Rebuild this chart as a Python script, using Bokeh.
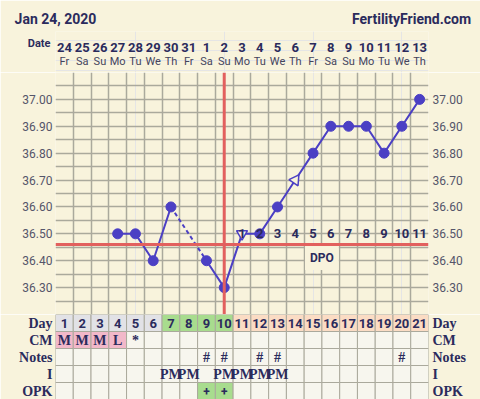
import math
from bokeh.plotting import figure
from bokeh.models import (Range1d, FactorRange, FixedTicker, LinearAxis, CategoricalAxis,
                          Span, Label, NumeralTickFormatter, Grid)
from bokeh.layouts import column
from bokeh.embed import file_html
from bokeh.resources import INLINE
from bokeh.core.properties import value

nan = float("nan")

# ---------------- data ----------------
title_left = "Jan 24, 2020"
title_right = "FertilityFriend.com"
days = list(range(1, 22))
dates = ["24", "25", "26", "27", "28", "29", "30", "31", "1", "2", "3", "4", "5", "6", "7", "8", "9", "10", "11", "12", "13"]
weekdays = ["Fr", "Sa", "Su", "Mo", "Tu", "We", "Th", "Fr", "Sa", "Su", "Mo", "Tu", "We", "Th", "Fr", "Sa", "Su", "Mo", "Tu", "We", "Th"]
temps = [nan, nan, nan, 36.50, 36.50, 36.40, 36.60, nan, 36.40, 36.30, 36.50,
         36.50, 36.60, 36.70, 36.80, 36.90, 36.90, 36.90, 36.80, 36.90, 37.00]
open_down_days = [11]
open_up_days = [14]
y_ticks = [36.30, 36.40, 36.50, 36.60, 36.70, 36.80, 36.90, 37.00]
coverline = 36.46
ovulation_day = 10
dpo_days = list(range(11, 22))
dpo_labels = [str(i) for i in range(1, 12)]

rows = ["OPK", "I", "Notes", "CM", "Day"]
day_phase = ["g", "g", "g", "g", "g", "g", "f", "f", "f", "f", "l", "l", "l", "l", "l", "l", "l", "l", "l", "l", "l"]
cm = ["M", "M", "M", "L", "*", "", "", "", "", "", "", "", "", "", "", "", "", "", "", "", ""]
notes = ["", "", "", "", "", "", "", "", "#", "#", "", "#", "#", "", "", "", "", "", "", "#", ""]
intercourse = ["", "", "", "", "", "", "PM", "PM", "", "PM", "PM", "PM", "PM", "", "", "", "", "", "", "", ""]
opk = ["", "", "", "", "", "", "", "", "+", "+", "", "", "", "", "", "", "", "", "", "", ""]

# ---------------- style ----------------
BG = "#f8f3dc"
CELL = "#f7f6ee"
NAVY = "#2b2b5c"
TICKC = "#55556a"
GRIDC = "#aaa99c"
LINEC = "#4b3fc4"
RED = "#e2605e"
PHASE_COL = {"g": "#e2e2e6", "f": "#a8dc8e", "l": "#fbdcc4"}
CM_COL = "#f2b8c9"
OPK_COL = "#a8dc8e"

W = 480
FL, FR = 55, 52
HEAD_TOP, HEAD_H = 31, 72
CH = 242
TAB_H = 85
xr = Range1d(0.5, 21.5)
COL = (W - FL - FR) / 21.0


def base_fig(h, yr, top=0):
    f = figure(width=W, height=h, x_range=xr, y_range=yr, output_backend="svg", toolbar_location=None,
               x_axis_location=None, y_axis_location=None, min_border_left=FL, min_border_right=FR,
               min_border_top=top, min_border_bottom=0)
    f.background_fill_color = BG
    f.border_fill_color = BG
    f.outline_line_color = None
    return f


def style_axis(ax, size, color, font="Roboto", bold=False, standoff=3):
    ax.axis_line_color = None
    ax.major_tick_line_color = None
    ax.minor_tick_line_color = None
    ax.major_tick_out = 0
    ax.major_tick_in = 0
    ax.minor_tick_out = 0
    ax.major_label_text_font = font
    ax.major_label_text_font_size = size
    ax.major_label_text_color = color
    ax.major_label_text_font_style = "bold" if bold else "normal"
    ax.major_label_standoff = standoff


# ---------------- header ----------------
h = base_fig(HEAD_H, Range1d(HEAD_H, HEAD_TOP), top=HEAD_TOP)
h.text(days, [47] * 21, text=dates, text_font=value("Roboto"), text_font_style="bold", text_font_size="13px",
       text_color=NAVY, text_align="center", text_baseline="alphabetic")
h.text(days, [61] * 21, text=weekdays, text_font=value("Roboto"), text_font_size="11px",
       text_color="#44445c", text_align="center", text_baseline="alphabetic")
tl_x, tr_x = 0.5, 0.5 + (411 - FL) / COL
ax_t = LinearAxis(ticker=FixedTicker(ticks=[tl_x, tr_x]),
                  major_label_overrides={tl_x: title_left, tr_x: title_right})
style_axis(ax_t, "14px", NAVY, bold=True, standoff=5)
h.add_layout(ax_t, "above")
ax_d = LinearAxis(ticker=FixedTicker(ticks=[43]), major_label_overrides={43: "Date"})
style_axis(ax_d, "11px", NAVY, bold=True, standoff=5)
h.add_layout(ax_d, "left")

# ---------------- chart ----------------
p = base_fig(CH, Range1d(36.20, 37.10))
xb = [0.5 + i for i in range(22)]
yb = [round(36.20 + 0.05 * i, 2) for i in range(19)]
p.add_layout(Grid(dimension=0, ticker=FixedTicker(ticks=xb), grid_line_color=GRIDC, grid_line_width=1.5))
p.add_layout(Grid(dimension=1, ticker=FixedTicker(ticks=yb), grid_line_color=GRIDC, grid_line_width=1.5))

for side, so in (("left", 3), ("right", 4)):
    ax = LinearAxis(ticker=FixedTicker(ticks=y_ticks), formatter=NumeralTickFormatter(format="0.00"))
    style_axis(ax, "12px", TICKC, standoff=so)
    p.add_layout(ax, side)

p.add_layout(Span(location=coverline, dimension="width", line_color=RED, line_width=3))
p.add_layout(Span(location=ovulation_day, dimension="height", line_color=RED, line_width=3))

p.line(days, temps, line_color=LINEC, line_width=2)
i7, i9 = days.index(7), days.index(9)
p.line([days[i7], days[i9]], [temps[i7], temps[i9]], line_color=LINEC, line_width=2, line_dash="4 3")

keep = [i for i, t_ in enumerate(temps) if not math.isnan(t_) and days[i] not in open_down_days + open_up_days]
p.scatter([days[i] for i in keep], [temps[i] for i in keep], marker="circle", size=10,
          fill_color=LINEC, line_color=LINEC)
p.scatter(open_down_days, [temps[days.index(d)] for d in open_down_days], marker="inverted_triangle",
          size=11, fill_color=BG, line_color=LINEC, line_width=1.5)
p.scatter(open_up_days, [temps[days.index(d)] for d in open_up_days], marker="triangle",
          size=11, angle=-0.6, fill_color=BG, line_color=LINEC, line_width=1.5)

p.text(dpo_days, [36.50] * len(dpo_days), text=dpo_labels, text_font=value("Roboto"), text_font_style="bold",
       text_font_size="13px", text_color=NAVY, text_align="center", text_baseline="middle")

p.add_layout(Label(x=15.5, y=36.41, text="DPO", text_font="Roboto", text_font_style="bold", text_font_size="12px",
                   text_color=NAVY, text_align="center", text_baseline="middle", background_fill_color=BG,
                   padding=5))

# ---------------- table ----------------
t = base_fig(TAB_H, FactorRange(factors=rows))
cx_, cy_, cf_ = [], [], []
for i, d in enumerate(days):
    cx_ += [d] * 5
    cy_ += ["Day", "CM", "Notes", "I", "OPK"]
    cf_ += [PHASE_COL[day_phase[i]], CM_COL if cm[i] in ("M", "L") else CELL, CELL, CELL,
            OPK_COL if opk[i] else CELL]
t.rect(cx_, cy_, width=1, height=1, fill_color=cf_, line_color=GRIDC, line_width=1)

t.text(days, ["Day"] * 21, text=[str(d) for d in days], text_font=value("Roboto"), text_font_style="bold",
       text_font_size="13px", text_color=NAVY, text_align="center", text_baseline="middle")
serif = value("Liberation Serif")
for row, vals in (("CM", cm), ("Notes", notes), ("I", intercourse)):
    t.text(days, [row] * 21, text=vals, text_font=serif, text_font_style="bold", text_font_size="14px",
           text_color=NAVY, text_align="center", text_baseline="middle")
t.text(days, ["OPK"] * 21, text=opk, text_font=value("Roboto"), text_font_style="bold",
       text_font_size="12px", text_color=NAVY, text_align="center", text_baseline="middle")

for side, so in (("left", 3), ("right", 4)):
    ax = CategoricalAxis()
    style_axis(ax, "14px", NAVY, font="Liberation Serif", bold=True, standoff=so)
    t.add_layout(ax, side)

layout = column(h, p, t, spacing=0)
open("out.html", "w").write(file_html(layout, INLINE))
